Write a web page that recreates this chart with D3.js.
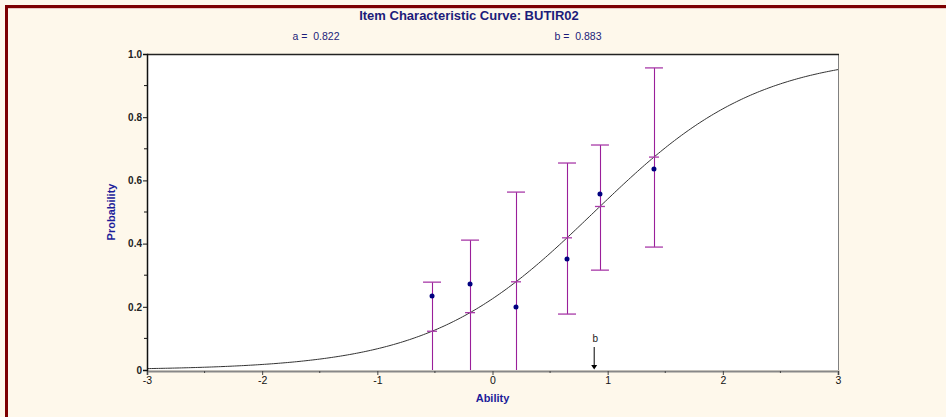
<!DOCTYPE html>
<html>
<head>
<meta charset="utf-8">
<script src="https://cdn.jsdelivr.net/npm/d3@7"></script>
<style>
  body { margin: 0; background: #fef8eb; }
  svg { display: block; font-family: "Liberation Sans", Arial, sans-serif; }
</style>
</head>
<body>
<div id="icc"></div>
<script>
// item parameters
var itemName = "BUTIR02";
var aParam = 0.822, bParam = 0.883;

// observed groups: ability, observed proportion, upper / lower limit of the band
var groupTheta = [-0.525, -0.195, 0.204, 0.647, 0.933, 1.402];
var groupObs   = [0.234, 0.272, 0.199, 0.351, 0.557, 0.636];
var groupUpper = [0.278, 0.411, 0.563, 0.655, 0.712, 0.956];
var groupLower = [-0.03, -0.05, -0.01, 0.177, 0.316, 0.389];

var xTicks = [-3, -2, -1, 0, 1, 2, 3];
var xTickLabels = ["-3", "-2", "-1", "0", "1", "2", "3"];
var yTicks = [0, 0.2, 0.4, 0.6, 0.8, 1.0];
var yTickLabels = ["0", "0.2", "0.4", "0.6", "0.8", "1.0"];

var W = 946, H = 417;
var margin = {top: 54, right: 108, bottom: 47, left: 147};

var svg = d3.select("#icc").append("svg")
    .attr("width", W)
    .attr("height", H);

// dark red frame (left + top)
svg.append("rect").attr("x", 5).attr("y", 5).attr("width", 3).attr("height", H).attr("fill", "#7d0000");
svg.append("rect").attr("x", 5).attr("y", 5).attr("width", W).attr("height", 3).attr("fill", "#7d0000");
svg.append("line").attr("x1", 8).attr("x2", W).attr("y1", 8.5).attr("y2", 8.5).attr("stroke", "#e8c8c0");

var x = d3.scaleLinear().domain([-3, 3]).range([margin.left, W - margin.right]);
var y = d3.scaleLinear().domain([0, 1]).range([H - margin.bottom, margin.top]);

function icc(t) { return 1 / (1 + Math.exp(-1.7 * aParam * (t - bParam))); }

var g = svg.append("g");

// plot area
g.append("rect")
    .attr("x", x(-3)).attr("y", y(1))
    .attr("width", x(3) - x(-3)).attr("height", y(0) - y(1))
    .attr("fill", "#fff");

// right border grey, top border black
g.append("line").attr("x1", x(3) + 0.5).attr("x2", x(3) + 0.5).attr("y1", y(1)).attr("y2", y(0))
    .attr("stroke", "#808080");
g.append("line").attr("x1", x(-3)).attr("x2", x(3) + 1).attr("y1", y(1) + 0.5).attr("y2", y(1) + 0.5)
    .attr("stroke", "#222").attr("stroke-width", 1.3);

// curve
var pts = d3.range(0, 301).map(function(i) { var t = -3 + i * 0.02; return [t, icc(t)]; });
g.append("path")
    .datum(pts)
    .attr("fill", "none")
    .attr("stroke", "#333")
    .attr("stroke-width", 1)
    .attr("d", d3.line().x(function(d) { return x(d[0]); }).y(function(d) { return y(d[1]); }));

// error bars
var groups = groupTheta.map(function(t, i) {
  return {t: t, obs: groupObs[i], hi: groupUpper[i], lo: Math.max(0, groupLower[i])};
});

var bars = g.append("g").selectAll("g").data(groups).enter().append("g");
bars.append("line")
    .attr("x1", function(d) { return Math.round(x(d.t)) + 0.5; }).attr("x2", function(d) { return Math.round(x(d.t)) + 0.5; })
    .attr("y1", function(d) { return y(d.hi); }).attr("y2", function(d) { return y(d.lo); })
    .attr("stroke", "#9a1f9a").attr("stroke-width", 1.1);
bars.append("line")
    .attr("x1", function(d) { return x(d.t) - 9; }).attr("x2", function(d) { return x(d.t) + 9; })
    .attr("y1", function(d) { return y(d.hi); }).attr("y2", function(d) { return y(d.hi); })
    .attr("stroke", "#a83aa8").attr("stroke-width", 1.3);
bars.filter(function(d) { return d.lo > 0; }).append("line")
    .attr("x1", function(d) { return x(d.t) - 9; }).attr("x2", function(d) { return x(d.t) + 9; })
    .attr("y1", function(d) { return y(d.lo); }).attr("y2", function(d) { return y(d.lo); })
    .attr("stroke", "#a83aa8").attr("stroke-width", 1.3);
bars.append("line")
    .attr("x1", function(d) { return x(d.t) - 5; }).attr("x2", function(d) { return x(d.t) + 5; })
    .attr("y1", function(d) { return y(icc(d.t)); }).attr("y2", function(d) { return y(icc(d.t)); })
    .attr("stroke", "#a83aa8").attr("stroke-width", 1.3);
bars.append("circle")
    .attr("cx", function(d) { return x(d.t); })
    .attr("cy", function(d) { return y(d.obs); })
    .attr("r", 2.5)
    .attr("fill", "#000080");

// b marker
g.append("line")
    .attr("x1", x(bParam)).attr("x2", x(bParam))
    .attr("y1", y(0) - 23).attr("y2", y(0) - 3)
    .attr("stroke", "#000").attr("stroke-width", 1);
g.append("path")
    .attr("d", "M" + (x(bParam) - 3) + "," + (y(0) - 5) + "L" + (x(bParam) + 3) + "," + (y(0) - 5) + "L" + x(bParam) + "," + (y(0) - 0.5) + "Z")
    .attr("fill", "#000");
g.append("text")
    .attr("x", x(bParam) + 1).attr("y", y(0) - 28)
    .attr("text-anchor", "middle")
    .attr("font-size", 10).attr("fill", "#1a1a1a")
    .text("b");

// x axis (grey)
var xAxis = g.append("g")
    .attr("transform", "translate(0," + (y(0) + 1) + ")")
    .call(d3.axisBottom(x).tickValues(xTicks).tickSize(4)
      .tickFormat(function(d, i) { return xTickLabels[i]; }));
xAxis.select(".domain").attr("stroke", "#888").attr("stroke-width", 2);
xAxis.selectAll(".tick line").attr("stroke", "#444");
xAxis.selectAll("text").attr("font-size", 10.5).attr("fill", "#111").attr("dy", "0.6em")
    .attr("font-family", "Liberation Sans, Arial, sans-serif");
g.append("g").selectAll("line").data(d3.range(-2.5, 3, 1)).enter().append("line")
    .attr("x1", function(d) { return x(d); }).attr("x2", function(d) { return x(d); })
    .attr("y1", y(0) + 1).attr("y2", y(0) + 3)
    .attr("stroke", "#444");

// y axis (black)
var yAxis = g.append("g")
    .attr("transform", "translate(" + x(-3) + ",0)")
    .call(d3.axisLeft(y).tickValues(yTicks).tickSize(4)
      .tickFormat(function(d, i) { return yTickLabels[i]; }));
yAxis.select(".domain").attr("stroke", "#111").attr("stroke-width", 1.5);
yAxis.selectAll(".tick line").attr("stroke", "#111");
yAxis.selectAll("text").attr("font-size", 10).attr("font-weight", "bold").attr("fill", "#222")
    .attr("x", -5)
    .attr("font-family", "Liberation Sans, Arial, sans-serif");
g.append("g").selectAll("line").data(d3.range(0.1, 1, 0.2)).enter().append("line")
    .attr("x1", x(-3) - 3).attr("x2", x(-3))
    .attr("y1", function(d) { return y(d); }).attr("y2", function(d) { return y(d); })
    .attr("stroke", "#111");

// titles
svg.append("text")
    .attr("x", 469).attr("y", 20)
    .attr("text-anchor", "middle")
    .attr("font-size", 13).attr("font-weight", "bold").attr("fill", "#1c1c7a")
    .text("Item Characteristic Curve: " + itemName);
svg.append("text")
    .attr("x", 316).attr("y", 40)
    .attr("text-anchor", "middle")
    .attr("font-size", 10.5).attr("fill", "#1c1c7a")
    .attr("xml:space", "preserve")
    .text("a =  " + aParam.toFixed(3));
svg.append("text")
    .attr("x", 578).attr("y", 40)
    .attr("text-anchor", "middle")
    .attr("font-size", 10.5).attr("fill", "#1c1c7a")
    .attr("xml:space", "preserve")
    .text("b =  " + bParam.toFixed(3));

svg.append("text")
    .attr("x", x(0)).attr("y", 402)
    .attr("text-anchor", "middle")
    .attr("font-size", 11).attr("font-weight", "bold").attr("fill", "#1c1c9a")
    .text("Ability");
svg.append("text")
    .attr("transform", "translate(115," + y(0.5) + ") rotate(-90)")
    .attr("text-anchor", "middle")
    .attr("font-size", 11).attr("font-weight", "bold").attr("fill", "#1c1c9a")
    .text("Probability");
</script>
</body>
</html>
